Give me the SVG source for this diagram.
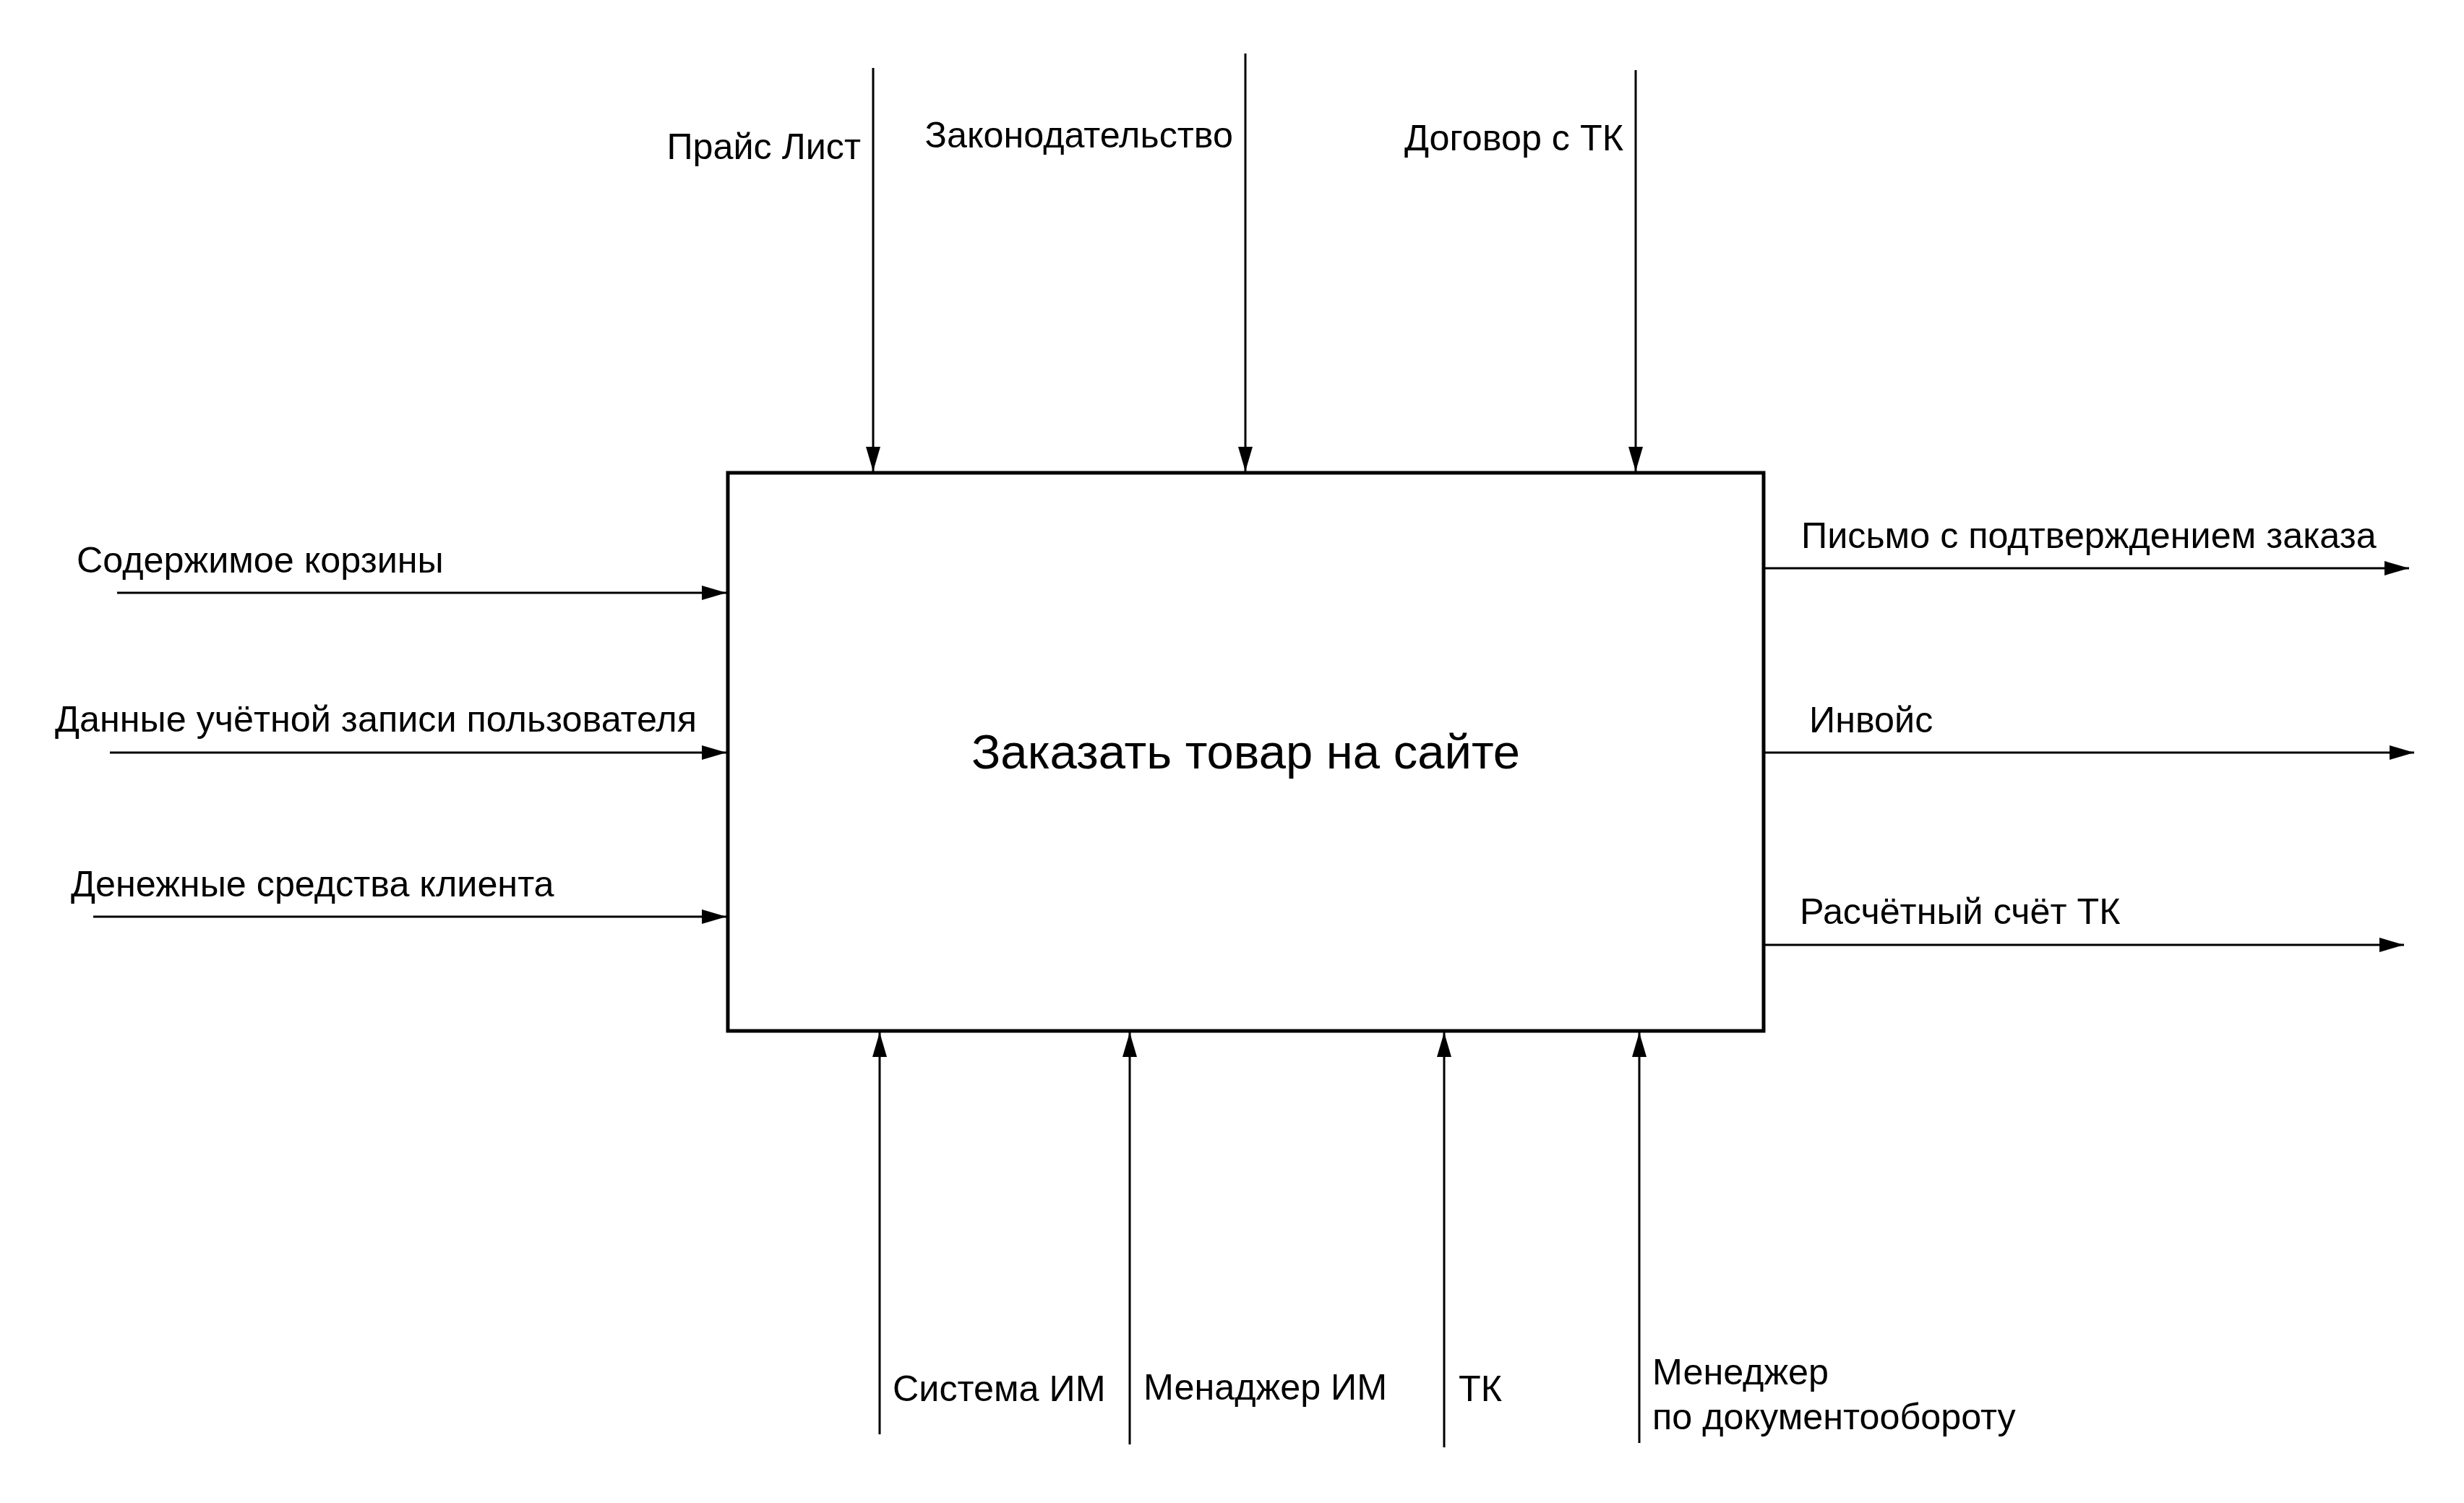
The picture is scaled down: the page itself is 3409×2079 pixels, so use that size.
<svg xmlns="http://www.w3.org/2000/svg" width="3409" height="2079" viewBox="0 0 3409 2079">
<style>
.lbl{font-family:"Liberation Sans",Arial,sans-serif;font-size:50.3px;fill:#000}
.title{font-family:"Liberation Sans",Arial,sans-serif;font-size:67px;fill:#000}
.c{fill:none;stroke:#000;stroke-width:3}
.box{fill:#fff;stroke:#000;stroke-width:5}
</style>
<defs>
<marker id="ah" markerUnits="userSpaceOnUse" markerWidth="36" markerHeight="22" viewBox="0 0 36 22" refX="34" refY="11" orient="auto">
<path d="M0,1 L34,11 L0,21 Z" fill="#000"/>
</marker>
</defs>
<rect width="3409" height="2079" fill="#fff"/>
<g id="node-main">
<rect class="box" x="1007" y="654" width="1433" height="772"/>
<text class="title" x="1723.5" y="1063" text-anchor="middle">Заказать товар на сайте</text>
</g>
<g id="connectors">
<line class="c" x1="1208" y1="94" x2="1208" y2="652" marker-end="url(#ah)"/>
<line class="c" x1="1723" y1="74" x2="1723" y2="652" marker-end="url(#ah)"/>
<line class="c" x1="2263" y1="97" x2="2263" y2="652" marker-end="url(#ah)"/>
<line class="c" x1="162" y1="820" x2="1005" y2="820" marker-end="url(#ah)"/>
<line class="c" x1="152" y1="1041" x2="1005" y2="1041" marker-end="url(#ah)"/>
<line class="c" x1="129" y1="1268" x2="1005" y2="1268" marker-end="url(#ah)"/>
<line class="c" x1="2442" y1="786" x2="3333" y2="786" marker-end="url(#ah)"/>
<line class="c" x1="2442" y1="1041" x2="3340" y2="1041" marker-end="url(#ah)"/>
<line class="c" x1="2442" y1="1307" x2="3326" y2="1307" marker-end="url(#ah)"/>
<line class="c" x1="1217" y1="1984" x2="1217" y2="1428" marker-end="url(#ah)"/>
<line class="c" x1="1563" y1="1998" x2="1563" y2="1428" marker-end="url(#ah)"/>
<line class="c" x1="1998" y1="2002" x2="1998" y2="1428" marker-end="url(#ah)"/>
<line class="c" x1="2268" y1="1996" x2="2268" y2="1428" marker-end="url(#ah)"/>
</g>
<g id="label-price"><text class="lbl" x="1191" y="220" text-anchor="end">Прайс Лист</text></g>
<g id="label-law"><text class="lbl" x="1706" y="204" text-anchor="end">Законодательство</text></g>
<g id="label-contract"><text class="lbl" x="2246" y="208" text-anchor="end">Договор с ТК</text></g>
<g id="label-cart"><text class="lbl" x="106" y="792">Содержимое корзины</text></g>
<g id="label-account"><text class="lbl" x="76" y="1012">Данные учётной записи пользователя</text></g>
<g id="label-money"><text class="lbl" x="98" y="1240">Денежные средства клиента</text></g>
<g id="label-letter"><text class="lbl" x="2492" y="758">Письмо с подтверждением заказа</text></g>
<g id="label-invoice"><text class="lbl" x="2503" y="1013">Инвойс</text></g>
<g id="label-account-tk"><text class="lbl" x="2490" y="1278">Расчётный счёт ТК</text></g>
<g id="label-system"><text class="lbl" x="1235" y="1938">Система ИМ</text></g>
<g id="label-manager"><text class="lbl" x="1582" y="1936">Менаджер ИМ</text></g>
<g id="label-tk"><text class="lbl" x="2018" y="1938">ТК</text></g>
<g id="label-docmanager"><text class="lbl" x="2286" y="1915">Менеджер</text><text class="lbl" x="2286" y="1977">по документообороту</text></g>
</svg>
